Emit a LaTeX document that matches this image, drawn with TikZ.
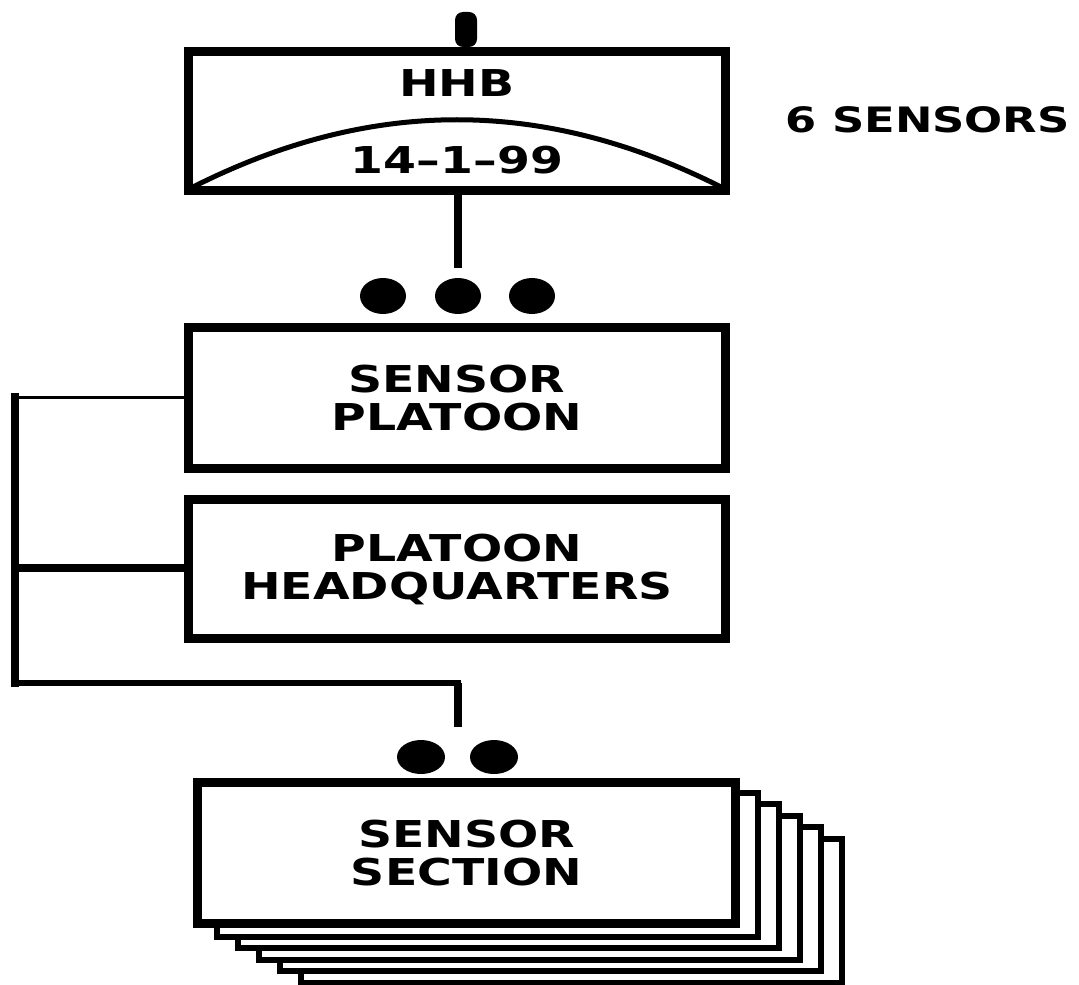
\documentclass[tikz,border=0pt]{standalone}
\usepackage{fontspec}
\newfontfamily\lblfont[FakeStretch=1.28]{DejaVu Sans}
\usetikzlibrary{shapes.geometric}

\begin{document}
\begin{tikzpicture}[
  x=0.5pt, y=-0.5pt,
  box/.style={draw, line width=4.5pt, fill=white, minimum width=268.5pt,
    minimum height=70pt, inner sep=0pt, align=center,
    font={\lblfont\bfseries\fontsize{18.5}{19}\selectfont}},
  stackbox/.style={draw, line width=3pt, fill=white, minimum width=270.5pt,
    minimum height=72pt, inner sep=0pt},
  lbl/.style={inner sep=0pt, align=center,
    font={\lblfont\bfseries\fontsize{18.5}{19}\selectfont}},
  dot/.style={ellipse, fill, minimum width=23pt, minimum height=18pt, inner sep=0pt},
  wire/.style={line width=4pt}
]
  \useasboundingbox (0,0) rectangle (1079,984);

  % Bus on the left
  \coordinate (busA) at (15,397);
  \coordinate (busB) at (15,568);
  \coordinate (busC) at (15,683);
  \coordinate (drop) at (458,683);
  \coordinate (dropEnd) at (458,727);
  \coordinate (tap) at (458,268);

  \draw[wire, line cap=rect] (busA) -- (busC);
  \draw[line width=3pt, line cap=rect] (busC) -- (drop);
  \draw[wire] (drop) -- (dropEnd);

  % HHB
  \fill[rounded corners=4pt] (455,47) rectangle (477,12);
  \node[box, minimum height=69.5pt] (hhb) at (457,121) {};
  \draw[line width=2.5pt] ([shift={(7,-7)}]hhb.south west)
    .. controls (370,97) and (544,97) .. ([shift={(-7,-7)}]hhb.south east);
  \node[lbl] (hhbname) at (457,83) {HHB};
  \node[lbl] (hhbdate) at (457,160) {14\textendash1\textendash99};
  \node[lbl, anchor=west, font={\lblfont\bfseries\fontsize{17.5}{18}\selectfont}]
    (count) at (785,120) {6 SENSORS};

  \draw[wire] (hhb.south -| tap) -- (tap);

  \foreach \i/\x in {1/383,2/458,3/532}
    \node[dot] (top\i) at (\x,296) {};

  % Platoon
  \node[box, minimum height=70.5pt] (platoon) at (457,398) {SENSOR\\PLATOON};
  \node[box, minimum height=69.5pt] (hq) at (457,569) {PLATOON\\HEADQUARTERS};

  \draw[line width=1.5pt] (platoon.west |- busA) -- (busA);
  \draw[wire] (hq.west |- busB) -- (busB);

  % Sections
  \foreach \i/\x in {1/421,2/494}
    \node[dot, minimum width=24pt, minimum height=17pt] (bot\i) at (\x,757) {};

  \foreach \k in {5,4,...,1}
    \node[stackbox] (back\k) at ({466.5+21*\k},{853+11.5*\k}) {};
  \node[box, minimum width=269pt, minimum height=70.5pt] (section) at (466.5,853) {SENSOR\\SECTION};

\end{tikzpicture}
\end{document}
